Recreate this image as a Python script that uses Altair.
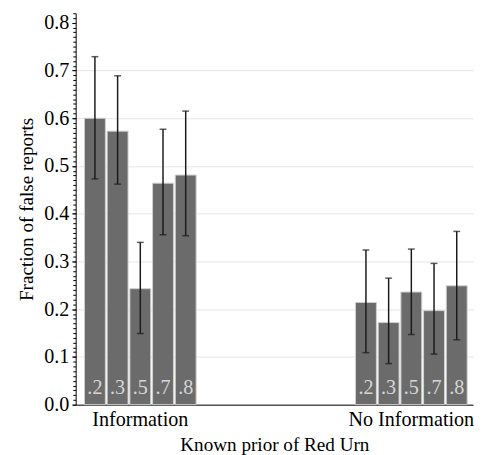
import altair as alt
import pandas as pd

groups = ["Information"] * 5 + ["No Information"] * 5
priors = [".2", ".3", ".5", ".7", ".8"] * 2
means = [0.600, 0.573, 0.243, 0.464, 0.481, 0.214, 0.172, 0.236, 0.197, 0.249]
lows = [0.473, 0.462, 0.149, 0.356, 0.354, 0.109, 0.086, 0.147, 0.106, 0.136]
highs = [0.729, 0.689, 0.340, 0.577, 0.615, 0.324, 0.265, 0.326, 0.296, 0.363]

df = pd.DataFrame({"group": groups, "prior": priors, "mean": means, "lo": lows, "hi": highs})

FONT = "Liberation Serif"
major_vals = [0.0, 0.1, 0.2, 0.3, 0.4, 0.5, 0.6, 0.7, 0.8]
minor_vals = [i / 100 for i in range(83)]

xscale = alt.Scale(paddingInner=0.588, paddingOuter=0.027, align=0.6)
xoff = alt.XOffset("prior:N", scale=alt.Scale(paddingInner=0.08, paddingOuter=0))
yscale = alt.Scale(domain=[0, 0.82], nice=False)
order = ["Information", "No Information"]

x_enc = alt.X(
    "group:N",
    scale=xscale,
    sort=order,
    axis=alt.Axis(
        title="Known prior of Red Urn",
        labelAngle=0,
        ticks=False,
        domainColor="black",
        labelFont=FONT,
        labelFontSize=20.5,
        labelColor="black",
        labelPadding=5,
        titleFont=FONT,
        titleFontSize=19.5,
        titleFontWeight="normal",
        titleColor="black",
        titlePadding=6,
    ),
)

base = alt.Chart(df)

bars = base.mark_bar(color="#6b6b6b", stroke="#cfcfcf", strokeWidth=1).encode(
    x=x_enc,
    xOffset=xoff,
    y=alt.Y(
        "mean:Q",
        scale=yscale,
        axis=alt.Axis(
            orient="left",
            values=minor_vals,
            labels=False,
            domain=False,
            grid=False,
            tickSize=3,
            tickColor="black",
            title=None,
        ),
    ),
)

rules = base.mark_rule(color="#1a1a1a", strokeWidth=1.5).encode(
    x=alt.X("group:N", sort=order),
    xOffset=xoff,
    y=alt.Y(
        "lo:Q",
        scale=yscale,
        axis=alt.Axis(
            orient="left",
            values=major_vals,
            format=".1f",
            title="Fraction of false reports",
            tickSize=4,
            tickColor="black",
            domainColor="black",
            labelFont=FONT,
            labelFontSize=20.5,
            labelColor="black",
            labelPadding=3,
            grid=True,
            gridColor="#e6e6e6",
            gridOpacity=alt.condition("datum.value > 0.75", alt.value(0), alt.value(1)),
            titleFont=FONT,
            titleFontSize=19.5,
            titleFontWeight="normal",
            titleColor="black",
            titlePadding=7,
        ),
    ),
    y2="hi:Q",
)

caps_lo = base.mark_tick(color="#1a1a1a", thickness=1.5, size=7).encode(
    x=alt.X("group:N", sort=order),
    xOffset=xoff,
    y=alt.Y("lo:Q", scale=yscale, axis=None),
)
caps_hi = base.mark_tick(color="#1a1a1a", thickness=1.5, size=7).encode(
    x=alt.X("group:N", sort=order),
    xOffset=xoff,
    y=alt.Y("hi:Q", scale=yscale, axis=None),
)

labels = base.mark_text(
    font=FONT, fontSize=20.5, color="#d6d6d6", baseline="alphabetic", dy=-11
).encode(
    x=alt.X("group:N", sort=order),
    xOffset=xoff,
    y=alt.datum(0, scale=yscale, axis=None),
    text="prior:N",
)

chart = (
    alt.layer(bars, rules, caps_lo, caps_hi, labels)
    .resolve_axis(y="independent")
    .properties(
        width=405,
        height=399,
        padding={"left": 9, "top": 0, "right": 0, "bottom": 0},
        background="white",
    )
    .configure_view(stroke=None)
)

chart.save("out.html", embed_options={"renderer": "svg", "actions": False})
